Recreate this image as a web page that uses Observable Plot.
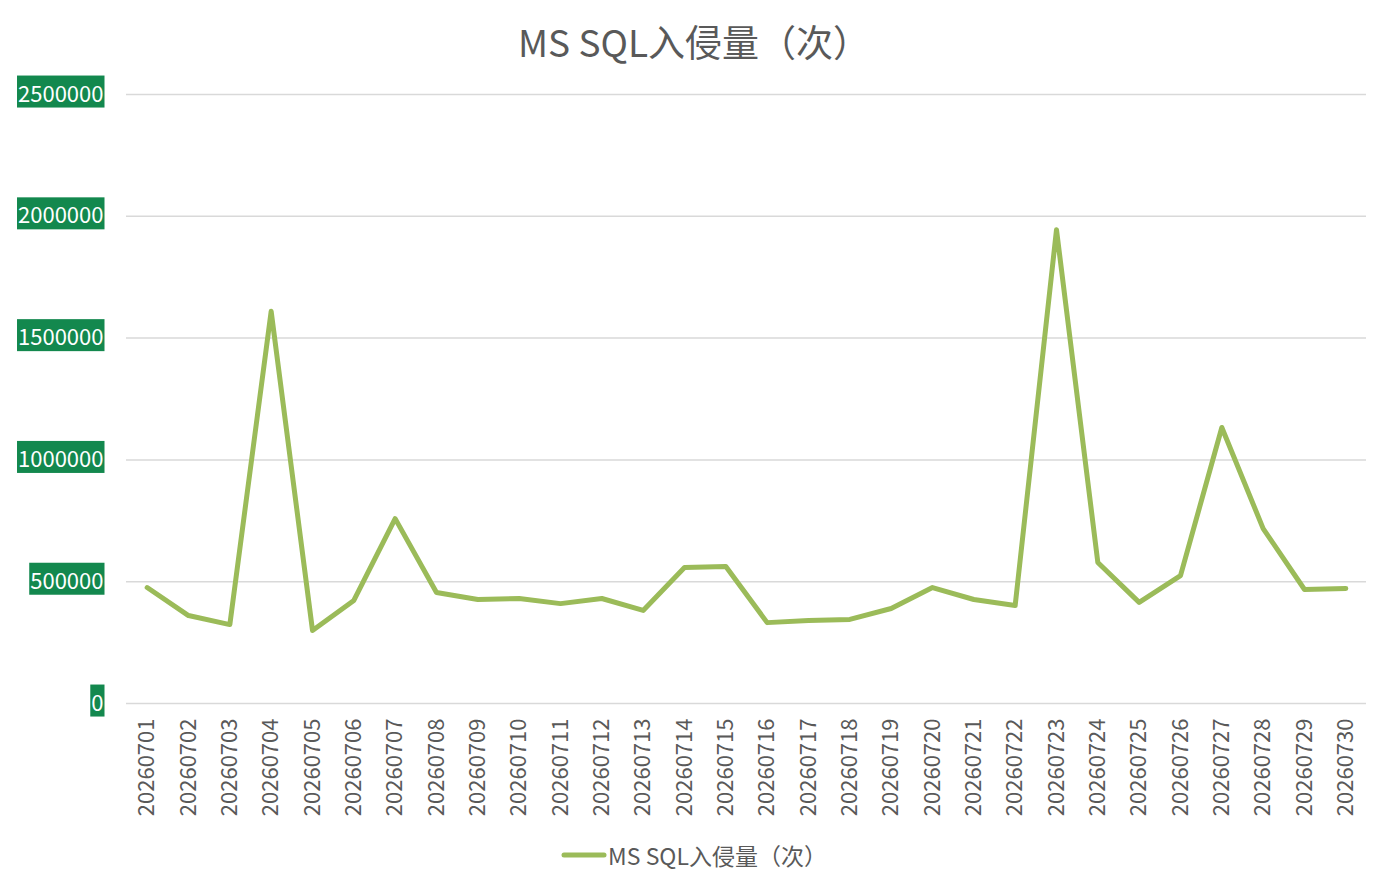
<!DOCTYPE html>
<html>
<head>
<meta charset="utf-8">
<script src="https://cdn.jsdelivr.net/npm/d3@7"></script>
<script src="https://cdn.jsdelivr.net/npm/@observablehq/plot@0.6"></script>
<style>
  body { margin: 0; background: #fff; font-family: "Noto Sans CJK SC", "Open Sans", sans-serif; }
  #wrap { width: 1388px; }
  #title { height: 75px; padding-top: 6px; box-sizing: border-box; text-align: center; font-size: 37px; line-height: 70px; color: #595959; }
  #legend { height: 40px; display: flex; justify-content: center; align-items: center; font-size: 23px; color: #595959; }
  #legend svg { margin-right: 1px; }
</style>
</head>
<body>
<div id="wrap">
  <div id="title">MS SQL入侵量（次）</div>
  <div id="chart"></div>
  <div id="legend"></div>
</div>
<script>
const seriesName = "MS SQL入侵量（次）";
const dates = [
  "20260701","20260702","20260703","20260704","20260705","20260706","20260707","20260708","20260709","20260710",
  "20260711","20260712","20260713","20260714","20260715","20260716","20260717","20260718","20260719","20260720",
  "20260721","20260722","20260723","20260724","20260725","20260726","20260727","20260728","20260729","20260730"
];
const values = [
  476000, 361000, 324000, 1610000, 300000, 423000, 759000, 456000, 427000, 431000,
  410000, 431000, 382000, 558000, 562000, 332000, 341000, 345000, 390000, 476000,
  427000, 402000, 1945000, 579000, 415000, 525000, 1133000, 718000, 468000, 472000
];
const yTicks = [0, 500000, 1000000, 1500000, 2000000, 2500000];

const lineColor = "#9BBB59";
const data = dates.map((d, i) => ({date: d, value: values[i]}));

const chart = Plot.plot({
  width: 1388,
  height: 760,
  marginTop: 19,
  marginBottom: 132,
  marginLeft: 126,
  marginRight: 22,
  style: { fontFamily: '"Noto Sans CJK SC", "Open Sans", sans-serif', background: "#fff" },
  x: { type: "point", domain: dates, padding: 0.5, round: false },
  y: { domain: [0, 2500000] },
  marks: [
    Plot.gridY(yTicks, { stroke: "#d9d9d9", strokeOpacity: 1, strokeWidth: 1.5 }),
    Plot.axisY(yTicks, { tickSize: 0, tickPadding: 23, fontSize: 22, fill: "#fff", tickFormat: d => String(d), label: null }),
    Plot.axisX({ tickSize: 0, tickPadding: 15, tickRotate: -90, fontSize: 22, fill: "#595959", label: null }),
    Plot.line(data, { x: "date", y: "value", stroke: lineColor, strokeWidth: 5, strokeLinejoin: "round", strokeLinecap: "round" })
  ]
});
document.getElementById("chart").appendChild(chart);

// green boxes behind the y tick labels
const yLabelGroup = chart.querySelector('g[aria-label="y-axis tick label"]');
if (yLabelGroup) {
  yLabelGroup.querySelectorAll("text").forEach(t => {
    const b = t.getBBox();
    const r = document.createElementNS("http://www.w3.org/2000/svg", "rect");
    r.setAttribute("x", b.x - 1);
    r.setAttribute("y", b.y);
    r.setAttribute("width", b.width + 2);
    r.setAttribute("height", b.height);
    r.setAttribute("fill", "#13884E");
    const tr = t.getAttribute("transform");
    if (tr) r.setAttribute("transform", tr);
    t.parentNode.insertBefore(r, t);
  });
}

// legend
const legend = document.getElementById("legend");
legend.innerHTML = `<svg width="46" height="10"><line x1="3" y1="5" x2="43" y2="5" stroke="${lineColor}" stroke-width="5" stroke-linecap="round"/></svg><span>${seriesName}</span>`;
</script>
</body>
</html>
